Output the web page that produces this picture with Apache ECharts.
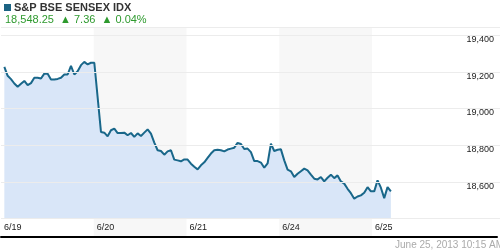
<!DOCTYPE html>
<html><head><meta charset="utf-8">
<script src="https://cdn.jsdelivr.net/npm/echarts@6/dist/echarts.min.js"></script>
<style>html,body{margin:0;padding:0;background:#fff}#c{width:500px;height:250px}</style>
</head><body><div id="c"></div>
<script>
// ---- data ----
const titleText = 'S&P BSE SENSEX IDX';
const lastValue = '18,548.25';
const change = '7.36';
const changePct = '0.04%';
const dateText = 'June 25, 2013 10:15 AM';
const dayLabels = ['6/19', '6/20', '6/21', '6/24', '6/25'];
const stepsPerDay = 28; // sampling steps per trading day
const yTicks = [18400, 18600, 18800, 19000, 19200, 19400];
const yLabelled = [18600, 18800, 19000, 19200, 19400];
// index values, one per sampling step (null = no sample)
const values = [
  null, 19227, 19178, 19160, 19136, 19118, 19134, 19150, 19127, 19138,
  19167, 19167, 19163, 19190, 19189, 19158, 19158, 19161, 19167, 19185,
  19185, 19232, 19185, 19203, 19236, 19254, 19240, 19249, 19249, null,
  18872, 18868, 18848, 18881, 18890, 18866, 18866, 18868, 18854, 18866,
  18845, 18864, 18850, 18868, 18886, 18863, 18814, 18772, 18768, 18748,
  18766, 18772, 18721, 18717, 18712, 18722, 18721, 18699, 18682, 18668,
  18690, 18706, 18730, 18754, 18772, 18775, 18772, 18766, 18776, 18781,
  18786, 18812, 18806, 18779, 18781, 18762, 18713, 18713, 18705, 18677,
  18700, 18808, 18768, 18775, 18777, 18717, 18666, 18657, 18626, 18644,
  18658, 18672, 18662, 18639, 18617, 18613, 18626, 18602, 18622, 18639,
  18620, 18635, 18602, 18590, 18562, 18538, 18508, 18520, 18526, 18540,
  18571, 18548, 18548, 18608, 18568, 18511, 18571, 18548
];
const shadedDays = [1, 3];

// ---- chart ----
const FONT = 'Liberation Sans, Arial, sans-serif';
const seriesData = values.map((v, i) => [i / stepsPerDay, v]);
const xMax = 5.348;
const yMin = yTicks[0], yMax = 19444, yStep = yTicks[1] - yTicks[0];

const chart = echarts.init(document.getElementById('c'), null, {renderer: 'canvas'});
chart.setOption({
  animation: false,
  title: [{
    left: 4, top: 2, padding: 0,
    text: '{box|}{t|' + titleText + '}',
    textStyle: {
      rich: {
        box: {width: 7, height: 7, backgroundColor: '#1b6383', padding: 0},
        t: {fontFamily: FONT, fontSize: 11, fontWeight: 'bold', color: '#333', padding: [0, 0, 0, 3]}
      }
    }
  }, {
    left: 5, top: 14, padding: 0,
    text: lastValue + '  \u25B2 ' + change + '  \u25B2 ' + changePct,
    textStyle: {fontFamily: FONT, fontSize: 11, fontWeight: 'normal', color: '#2e9a2e'}
  }, {
    right: -4, top: 240, padding: 0,
    text: dateText,
    textStyle: {fontFamily: FONT, fontSize: 10, fontWeight: 'normal', color: '#aaa'}
  }],
  grid: [
    {left: 1, right: 0, top: 27, bottom: 31.5},
    {left: 1, right: 0, top: 27, bottom: 13}
  ],
  xAxis: [{
    gridIndex: 0, type: 'value', min: 0, max: xMax, interval: 1,
    axisLine: {show: false}, axisTick: {show: false}, axisLabel: {show: false}, splitLine: {show: false}
  }, {
    gridIndex: 1, type: 'value', min: 0, max: xMax, interval: 1, zlevel: 1, z: 10,
    axisLine: {show: true, onZero: false, lineStyle: {color: '#000', width: 2}},
    axisTick: {show: false}, splitLine: {show: false},
    axisLabel: {
      inside: true, margin: 5, align: 'left', padding: [0, 0, 0, 3],
      fontFamily: FONT, fontSize: 9, color: '#222',
      formatter: v => (Number.isInteger(v) && dayLabels[v]) ? dayLabels[v] : ''
    }
  }],
  yAxis: [{
    gridIndex: 0, type: 'value', position: 'right', min: yMin, max: yMax, interval: yStep, z: 10,
    axisLine: {show: false}, axisTick: {show: false},
    splitLine: {lineStyle: {color: '#ececec', width: 1}},
    axisLabel: {
      inside: true, margin: 6, verticalAlign: 'top',
      fontFamily: FONT, fontSize: 9, color: '#222',
      formatter: v => yLabelled.includes(v) ? v.toLocaleString('en-US') : ''
    }
  }, {
    gridIndex: 1, type: 'value', min: 0, max: 1, show: false
  }],
  series: [{
    type: 'line', xAxisIndex: 1, yAxisIndex: 1, data: [], silent: true, z: 0,
    markArea: {
      silent: true, z: 0,
      itemStyle: {color: '#f7f7f7'},
      data: shadedDays.map(d => [{xAxis: d}, {xAxis: d + 1}])
    }
  }, {
    type: 'line', xAxisIndex: 0, yAxisIndex: 0, data: seriesData,
    connectNulls: true, showSymbol: false, symbol: 'none',
    lineStyle: {color: '#19678a', width: 2},
    areaStyle: {color: '#d9e6f8', opacity: 1, origin: 'start'},
    z: 3
  }]
});
</script>
</body></html>
